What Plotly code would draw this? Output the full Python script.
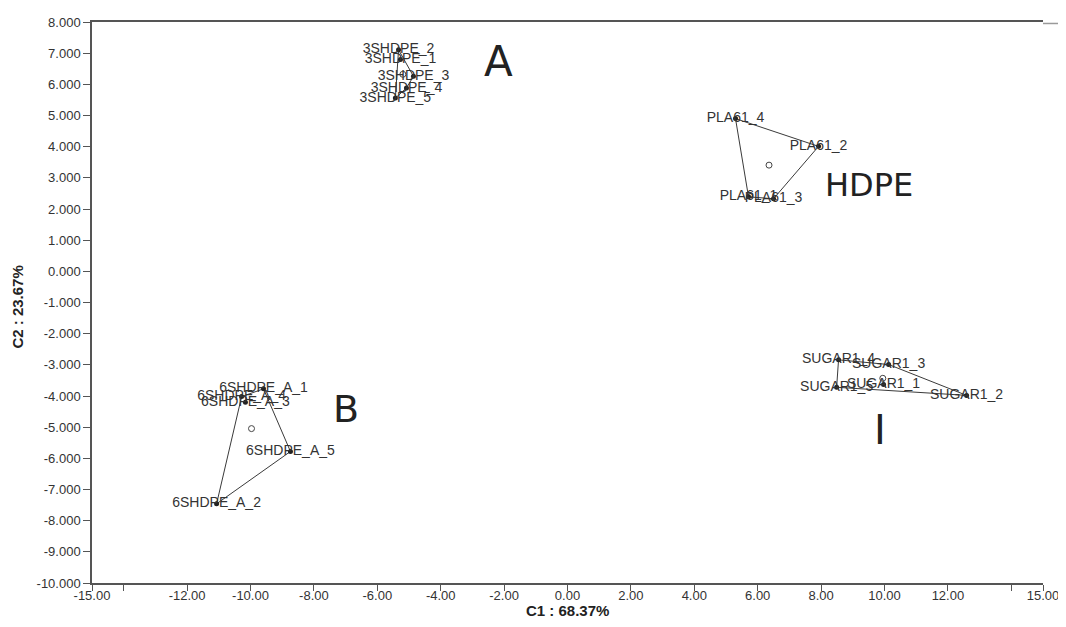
import plotly.graph_objects as go

# ---- data ----
a_names = ["3SHDPE_1", "3SHDPE_2", "3SHDPE_3", "3SHDPE_4", "3SHDPE_5"]
a_x = [-5.27, -5.33, -4.86, -5.08, -5.43]
a_y = [6.80, 7.11, 6.26, 5.88, 5.56]

hdpe_names = ["PLA61_1", "PLA61_2", "PLA61_3", "PLA61_4"]
hdpe_x = [5.71, 7.92, 6.50, 5.30]
hdpe_y = [2.39, 4.01, 2.33, 4.90]

b_names = ["6SHDPE_A_1", "6SHDPE_A_2", "6SHDPE_A_3", "6SHDPE_A_4", "6SHDPE_A_5"]
b_x = [-9.59, -11.07, -10.16, -10.28, -8.74]
b_y = [-3.77, -7.46, -4.20, -4.02, -5.78]

i_names = ["SUGAR1_1", "SUGAR1_2", "SUGAR1_3", "SUGAR1_4", "SUGAR1_5"]
i_x = [9.97, 12.59, 10.13, 8.55, 8.49]
i_y = [-3.63, -3.98, -2.99, -2.84, -3.72]

group_labels = ["A", "HDPE", "B", "I"]
group_label_x = [-2.18, 9.50, -7.00, 9.87]
group_label_y = [6.73, 2.77, -4.42, -5.09]
group_label_size = [42, 32, 38, 40]

x_tickvals = [-15, -14, -12, -10, -8, -6, -4, -2, 0, 2, 4, 6, 8, 10, 12, 14, 15]
x_ticktext = ["-15.00", "", "-12.00", "-10.00", "-8.00", "-6.00", "-4.00", "-2.00",
              "0.00", "2.00", "4.00", "6.00", "8.00", "10.00", "12.00", "", "15.00"]
y_tickvals = list(range(-10, 9))
y_ticktext = [("%.3f" % v) for v in y_tickvals]

x_title = "C1 : 68.37%"
y_title = "C2 : 23.67%"


def hull(xs, ys):
    pts = sorted(set(zip(xs, ys)))
    if len(pts) < 3:
        return pts

    def cross(o, a, b):
        return (a[0] - o[0]) * (b[1] - o[1]) - (a[1] - o[1]) * (b[0] - o[0])

    lower, upper = [], []
    for p in pts:
        while len(lower) >= 2 and cross(lower[-2], lower[-1], p) <= 0:
            lower.pop()
        lower.append(p)
    for p in reversed(pts):
        while len(upper) >= 2 and cross(upper[-2], upper[-1], p) <= 0:
            upper.pop()
        upper.append(p)
    h = lower[:-1] + upper[:-1]
    return h + [h[0]]


fig = go.Figure()
line_col = "#3a3a3a"
text_col = "#333333"
font_fam = "Liberation Sans, Arial, sans-serif"

for names, xs, ys in [(a_names, a_x, a_y), (hdpe_names, hdpe_x, hdpe_y),
                      (b_names, b_x, b_y), (i_names, i_x, i_y)]:
    h = hull(xs, ys)
    fig.add_trace(go.Scatter(x=[p[0] for p in h], y=[p[1] for p in h], mode="lines",
                             line=dict(color=line_col, width=1), hoverinfo="skip",
                             showlegend=False))
    fig.add_trace(go.Scatter(x=xs, y=ys, mode="markers+text", text=names,
                             textposition="middle center",
                             textfont=dict(family=font_fam, size=14, color=text_col),
                             marker=dict(size=5, color="#222222"), showlegend=False))
    cx = sum(xs) / len(xs)
    cy = sum(ys) / len(ys)
    fig.add_trace(go.Scatter(x=[cx], y=[cy], mode="markers",
                             marker=dict(size=6, symbol="circle-open", color="#444444",
                                         line=dict(width=1)),
                             showlegend=False))

for t, gx, gy, s in zip(group_labels, group_label_x, group_label_y, group_label_size):
    fig.add_annotation(x=gx, y=gy, text=t, showarrow=False, xref="x", yref="y",
                       font=dict(family="DejaVu Sans, sans-serif", size=s, color="#222222"))

fig.add_annotation(x=0.5, y=-28 / 568, xref="paper", yref="paper", text="<b>%s</b>" % x_title,
                   showarrow=False, yanchor="middle", xanchor="center",
                   font=dict(family=font_fam, size=15, color="#222222"))
fig.add_annotation(x=-(92 - 17) / 953, y=(583 - 304) / 568, xref="paper", yref="paper",
                   text="<b>%s</b>" % y_title, textangle=-90, showarrow=False,
                   xanchor="center", yanchor="middle",
                   font=dict(family=font_fam, size=15, color="#222222"))

fig.add_shape(type="line", xref="paper", yref="paper", x0=1.0, x1=1 + 21 / 953,
              y0=1 - 1.5 / 568, y1=1 - 1.5 / 568, line=dict(color="#9a9a9a", width=1.5))

fig.update_xaxes(range=[-15, 15], tickvals=x_tickvals, ticktext=x_ticktext,
                 ticks="outside", ticklen=6, tickcolor="#555555", showgrid=False,
                 zeroline=False, showline=True, linecolor="#555555", linewidth=1.5,
                 mirror=True, ticklabelstandoff=-6,
                 tickfont=dict(family=font_fam, size=13, color=text_col))
fig.update_yaxes(range=[-10, 8], tickvals=y_tickvals, ticktext=y_ticktext,
                 ticks="outside", ticklen=7, tickcolor="#555555", showgrid=False,
                 zeroline=False, showline=True, linecolor="#555555", linewidth=1.5,
                 mirror=False, tickfont=dict(family=font_fam, size=13, color=text_col))

# page body has an 8px margin, so the figure is sized to fit the 1066x627 window
fig.update_layout(width=1058, height=619, margin=dict(l=84, r=21, t=7, b=44),
                  plot_bgcolor="white", paper_bgcolor="white", showlegend=False)

fig.write_html("out.html")
